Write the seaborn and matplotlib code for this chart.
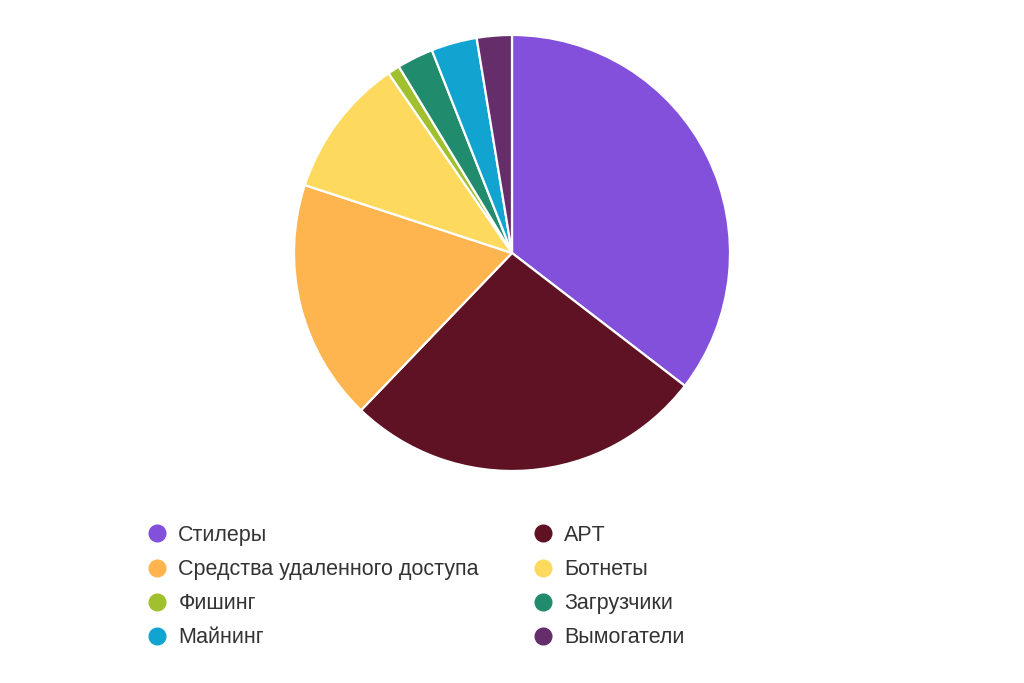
import matplotlib
matplotlib.use('Agg')
import matplotlib.pyplot as plt
from matplotlib.lines import Line2D
import seaborn as sns

# Data (shares, %)
categories = ['Стилеры', 'APT', 'Средства удаленного доступа', 'Ботнеты',
              'Фишинг', 'Загрузчики', 'Майнинг', 'Вымогатели']
shares = [35.5, 26.8, 17.9, 10.4, 0.9, 2.7, 3.4, 2.6]
colors = ['#8250DB', '#5E1224', '#FFB54F', '#FDDA5D',
          '#A0C030', '#218B6E', '#12A4D0', '#662D6B']

sns.set_theme(style='white')
plt.rcParams['font.family'] = ['Liberation Sans', 'DejaVu Sans']
palette = sns.color_palette(colors)

fig = plt.figure(figsize=(10.24, 6.83), dpi=100)
ax = fig.add_axes([0.2871, 0.3104, 0.4258, 0.6384])
wedges, _ = ax.pie(shares, colors=palette, startangle=90, counterclock=False,
                   wedgeprops=dict(edgecolor='white', linewidth=1.6, joinstyle='round'))
ax.set_xlim(-1.0, 1.0)
ax.set_ylim(-1.0, 1.0)
ax.set_aspect('equal')

# Legend in two columns (row-wise order)
handles = [Line2D([0], [0], marker='o', linestyle='none', markersize=12,
                  markerfacecolor=c, markeredgecolor=c) for c in palette]
for col, x in enumerate([0.1426, 0.5195]):
    idx = list(range(col, len(categories), 2))
    leg = fig.legend([handles[i] for i in idx], [categories[i] for i in idx],
                     loc='upper left', bbox_to_anchor=(x, 0.2313), frameon=False,
                     fontsize=15.5, handlelength=1.0, handletextpad=0.5,
                     labelspacing=0.61, borderpad=0, borderaxespad=0)
    for t in leg.get_texts():
        t.set_color('#333333')

fig.savefig('out.png', dpi=100, facecolor='white')
